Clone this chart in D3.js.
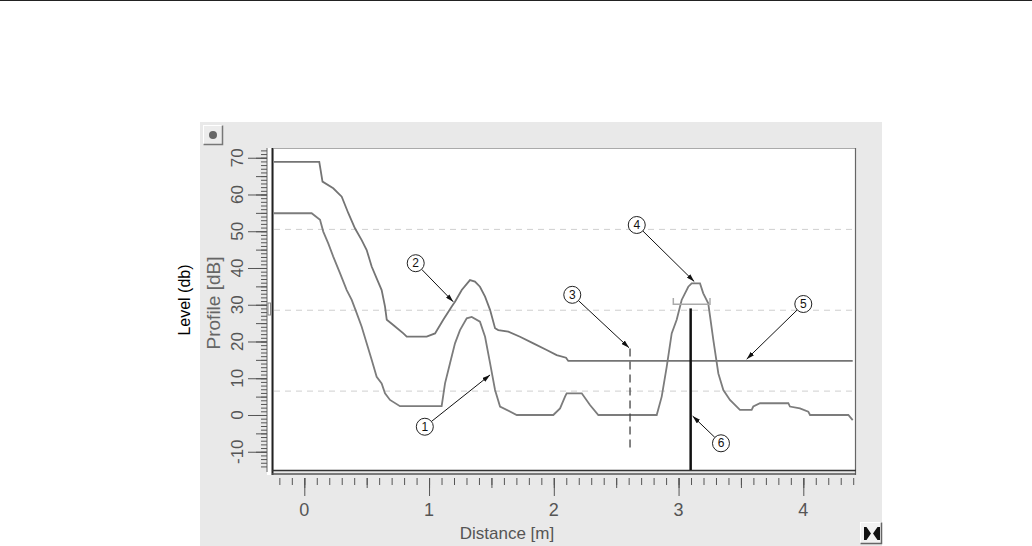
<!DOCTYPE html>
<html><head><meta charset="utf-8">
<script src="https://cdn.jsdelivr.net/npm/d3@7"></script>
<style>
body{margin:0;background:#fff;}
svg{display:block;font-family:"Liberation Sans",Arial,sans-serif;}
</style>
</head><body>
<svg id="c" width="1032" height="546"></svg>
<script>
// ---- data ----
// Upper curve (TVT-like), distance [m]
const tvtDistance = [-0.243,0.120,0.146,0.232,0.300,0.353,0.406,0.460,0.500,0.540,0.580,0.620,0.647,0.661,0.713,0.794,0.821,0.981,1.048,1.114,1.182,1.208,1.262,1.328,1.368,1.408,1.449,1.489,1.529,1.555,1.635,1.729,1.836,1.943,2.023,2.098,2.116,4.396];
const tvtDb       = [68.9,68.9,63.5,61.7,59.4,54.9,50.8,47.6,44.9,40.4,37.2,34.0,29.5,25.9,24.5,22.2,21.3,21.3,22.2,25.9,29.5,30.8,34.0,36.7,36.3,34.9,32.2,28.6,23.6,23.1,22.7,21.3,19.5,17.7,16.3,15.6,14.7,14.7];
// Lower curve (echo profile)
const echoDistance = [-0.243,0.059,0.126,0.152,0.192,0.232,0.286,0.340,0.380,0.420,0.460,0.500,0.540,0.580,0.620,0.647,0.687,0.767,1.101,1.128,1.168,1.208,1.248,1.302,1.342,1.408,1.449,1.489,1.529,1.569,1.703,1.996,2.050,2.090,2.103,2.224,2.290,2.357,2.825,2.865,2.905,2.945,2.985,3.025,3.078,3.105,3.172,3.198,3.238,3.279,3.319,3.359,3.412,3.492,3.586,3.599,3.653,3.880,3.893,3.973,4.040,4.054,4.361,4.396];
const echoDb       = [54.9,54.9,53.1,49.9,46.7,43.1,38.6,34.0,31.3,27.7,24.0,19.5,15.0,10.4,8.6,5.9,4.1,2.4,2.4,8.6,14.1,19.5,23.1,26.3,26.7,25.4,21.3,14.1,6.8,2.3,0.0,0.0,1.8,5.0,5.9,5.9,2.7,0.0,0.0,5.0,13.1,22.2,25.9,31.3,34.9,35.8,35.8,33.1,30.4,20.4,11.3,6.8,4.1,1.4,1.4,2.3,3.2,3.2,2.3,1.8,0.9,0.0,0.0,-1.4];
// Gridlines (dB)
const gridDb = [50.5, 28.5, 6.5];
// Tick labels
const xTickLabels = [0, 1, 2, 3, 4];
const yTickLabels = [-10, 0, 10, 20, 30, 40, 50, 60, 70];
// Echo marker (bracket), selected echo line, dashed blanking line
const bracketDistance = [2.958, 3.252];
const bracketDb = [31.8, 30.1];
const echoLineDistance = [3.097];
const echoLineDb = [29.0];
const blankDistance = [2.611];
const blankDb = [18.1, -10.0];
// Callouts
const calloutLabels = ["1","2","3","4","5","6"];
const calloutCircleX = [0.966, 0.893, 2.148, 2.665, 4.000, 3.340];
const calloutCircleY = [-3.2, 41.3, 32.7, 51.7, 30.2, -7.7];
const calloutTipX    = [1.489, 1.194, 2.603, 3.126, 3.546, 3.113];
const calloutTipY    = [10.9, 30.8, 18.3, 36.3, 15.2, -0.3];

// ---- layout ----
const svg = d3.select('#c');
const L = 274, R = 856, T = 148, B = 470;
const x = d3.scaleLinear().domain([-0.2429, 4.4224]).range([L, R]);
const y = d3.scaleLinear().domain([-14.97, 72.65]).range([B, T]);

// top rule
svg.append('line').attr('x1',0).attr('x2',1032).attr('y1',0.5).attr('y2',0.5).attr('stroke','#222');

// grey panel
svg.append('rect').attr('x',200).attr('y',122).attr('width',682).attr('height',424).attr('fill','#e9e9e9');

// top-left button
const btn = svg.append('g');
btn.append('rect').attr('x',203.5).attr('y',125.5).attr('width',19).attr('height',19).attr('fill','#ececec').attr('stroke','#fff');
btn.append('path').attr('d','M203.5,144.5 H222.5 V125.5').attr('fill','none').attr('stroke','#777').attr('stroke-width',1.5);
btn.append('circle').attr('cx',213).attr('cy',135).attr('r',4).attr('fill','#666');

// plot area
svg.append('rect').attr('x',L).attr('y',T).attr('width',R-L).attr('height',B-T).attr('fill','#fff');
svg.append('rect').attr('x',267).attr('y',T).attr('width',5).attr('height',B-T+5).attr('fill','#fff');

// gridlines
svg.append('g').selectAll('line').data(gridDb).join('line')
  .attr('x1',L).attr('x2',R).attr('y1',d=>y(d)).attr('y2',d=>y(d))
  .attr('stroke','#cfcfcf').attr('stroke-width',1).attr('stroke-dasharray','6,5');

// frame
svg.append('line').attr('x1',L).attr('x2',R).attr('y1',T+0.5).attr('y2',T+0.5).attr('stroke','#aaa');
svg.append('line').attr('x1',R-0.5).attr('x2',R-0.5).attr('y1',T).attr('y2',B+5).attr('stroke','#666').attr('stroke-width',1.2);
svg.append('line').attr('x1',272.5).attr('x2',272.5).attr('y1',T).attr('y2',B+5).attr('stroke','#222').attr('stroke-width',2);
svg.append('line').attr('x1',267).attr('x2',267).attr('y1',T).attr('y2',B+2).attr('stroke','#666');
svg.append('line').attr('x1',L-2).attr('x2',R).attr('y1',B+0.5).attr('y2',B+0.5).attr('stroke','#333').attr('stroke-width',1.6);
svg.append('line').attr('x1',L-2).attr('x2',R).attr('y1',B+4).attr('y2',B+4).attr('stroke','#555').attr('stroke-width',1.6);

// y ruler (axis ticks)
function yRuler(vals, size){
  const g = svg.append('g').attr('transform','translate(267,0)')
    .call(d3.axisLeft(y).tickValues(vals).tickSize(size).tickFormat(''));
  g.select('.domain').remove();
  g.selectAll('line').attr('stroke','#555');
}
yRuler(d3.range(-14, 73, 1), 6);
yRuler(d3.range(-10, 71, 5), 11);
yRuler(yTickLabels, 19);
svg.append('g').selectAll('text').data(yTickLabels).join('text')
  .attr('transform', d=>`translate(237,${y(d)}) rotate(-90)`)
  .attr('text-anchor','middle').attr('dominant-baseline','central')
  .attr('font-size',17).attr('fill','#555').text(d=>d);

// x ruler
function xRuler(vals, size){
  const g = svg.append('g').attr('transform','translate(0,478)')
    .call(d3.axisBottom(x).tickValues(vals).tickSize(size).tickFormat(''));
  g.select('.domain').remove();
  g.selectAll('line').attr('stroke','#555');
}
xRuler(d3.range(-2, 45, 1).map(i=>i/10), 7);
xRuler(d3.range(-0, 4.6, 0.5).filter(v=>v<=4.4), 10);
xRuler(xTickLabels, 18);
svg.append('g').selectAll('text').data(xTickLabels).join('text')
  .attr('x', d=>x(d)).attr('y', 516).attr('text-anchor','middle')
  .attr('font-size',18).attr('fill','#555').text(d=>d);

// axis titles
svg.append('text').attr('x',507).attr('y',539).attr('text-anchor','middle')
  .attr('font-size',17).attr('fill','#555').text('Distance [m]');
svg.append('text').attr('transform','translate(213,303) rotate(-90)').attr('text-anchor','middle')
  .attr('dominant-baseline','central').attr('font-size',19).attr('fill','#666').text('Profile [dB]');
svg.append('text').attr('transform','translate(184,300) rotate(-90)').attr('text-anchor','middle')
  .attr('dominant-baseline','central').attr('font-size',16).attr('fill','#000').text('Level (db)');
// small level marker on ruler
svg.append('rect').attr('x',268).attr('y',303).attr('width',2.5).attr('height',12).attr('fill','none').attr('stroke','#888');

// curves
const line = d3.line().x(d=>x(d[0])).y(d=>y(d[1]));
svg.append('path').datum(d3.zip(tvtDistance, tvtDb)).attr('d', line)
  .attr('fill','none').attr('stroke','#747474').attr('stroke-width',1.8);
svg.append('path').datum(d3.zip(echoDistance, echoDb)).attr('d', line)
  .attr('fill','none').attr('stroke','#7c7c7c').attr('stroke-width',1.8);

// bracket
svg.append('path')
  .attr('d', `M${x(bracketDistance[0])},${y(bracketDb[0])} V${y(bracketDb[1])} H${x(bracketDistance[1])} V${y(bracketDb[0])}`)
  .attr('fill','none').attr('stroke','#aaa').attr('stroke-width',1.5);
// selected echo line
svg.append('line').attr('x1',x(echoLineDistance[0])).attr('x2',x(echoLineDistance[0]))
  .attr('y1',y(echoLineDb[0])).attr('y2',B).attr('stroke','#111').attr('stroke-width',2.5);
// dashed line
svg.append('line').attr('x1',x(blankDistance[0])).attr('x2',x(blankDistance[0]))
  .attr('y1',y(blankDb[0])).attr('y2',y(blankDb[1])).attr('stroke','#444').attr('stroke-width',1.3)
  .attr('stroke-dasharray','8,5');

// callouts
svg.append('defs').append('marker').attr('id','arr').attr('viewBox','0 0 10 6')
  .attr('refX',10).attr('refY',3).attr('markerWidth',8).attr('markerHeight',5)
  .attr('markerUnits','userSpaceOnUse').attr('orient','auto')
  .append('path').attr('d','M0,0 L10,3 L0,6 z').attr('fill','#111');
const r = 8.5;
calloutLabels.forEach((lab,i)=>{
  const cx = x(calloutCircleX[i]), cy = y(calloutCircleY[i]);
  const tx = x(calloutTipX[i]), ty = y(calloutTipY[i]);
  const dx = tx-cx, dy = ty-cy, len = Math.hypot(dx,dy);
  svg.append('line').attr('x1',cx+dx/len*r).attr('y1',cy+dy/len*r).attr('x2',tx).attr('y2',ty)
    .attr('stroke','#111').attr('stroke-width',1).attr('marker-end','url(#arr)');
  svg.append('circle').attr('cx',cx).attr('cy',cy).attr('r',r).attr('fill','#fff').attr('stroke','#222').attr('stroke-width',1);
  svg.append('text').attr('x',cx).attr('y',cy).attr('text-anchor','middle').attr('dominant-baseline','central')
    .attr('font-size',12).attr('fill','#111').text(lab);
});

// bottom-right button
const b2 = svg.append('g');
b2.append('rect').attr('x',860.5).attr('y',522.5).attr('width',21).attr('height',21).attr('fill','#f2f2f2').attr('stroke','#fff');
b2.append('path').attr('d','M860.5,543.5 H881.5 V522.5').attr('fill','none').attr('stroke','#666').attr('stroke-width',1.5);
b2.append('path').attr('d','M864,527 h2.5 v13 h-2.5z M866.5,527 L871,533.5 L866.5,540z M877.5,527 L873,533.5 L877.5,540z M877.5,527 h2.5 v13 h-2.5z').attr('fill','#111');
</script>
</body></html>
